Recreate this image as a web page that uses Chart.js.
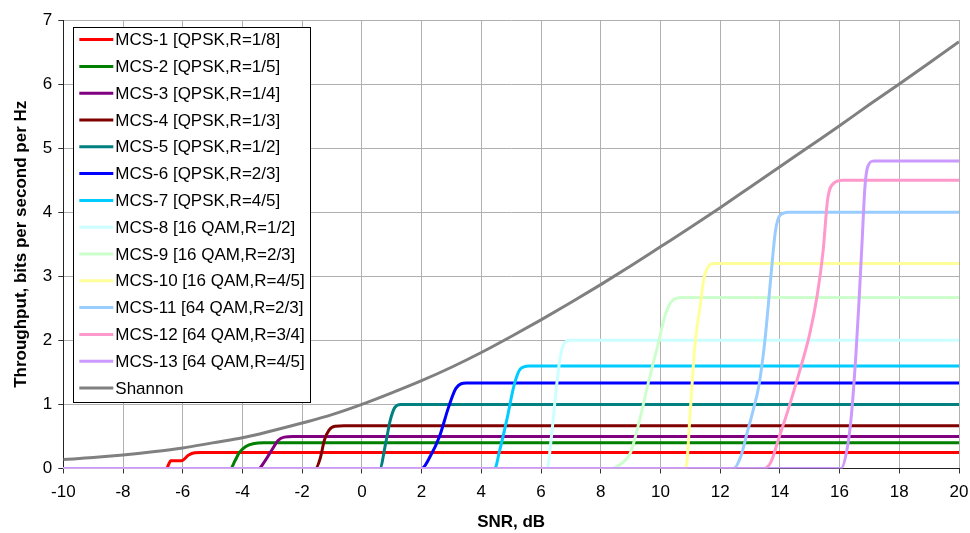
<!DOCTYPE html>
<html>
<head>
<meta charset="utf-8">
<title>MCS throughput vs SNR</title>
<script src="https://cdn.jsdelivr.net/npm/chart.js@4.4.0/dist/chart.umd.min.js"></script>
<style>
  html, body { margin: 0; padding: 0; background: #ffffff; }
  #wrap { width: 970px; height: 533px; position: relative; }
</style>
</head>
<body>
<div id="wrap"><canvas id="snrChart" width="970" height="533"></canvas></div>
<script>
// Series names
const seriesLabels = [
  'MCS-1 [QPSK,R=1/8]', 'MCS-2 [QPSK,R=1/5]', 'MCS-3 [QPSK,R=1/4]', 'MCS-4 [QPSK,R=1/3]',
  'MCS-5 [QPSK,R=1/2]', 'MCS-6 [QPSK,R=2/3]', 'MCS-7 [QPSK,R=4/5]', 'MCS-8 [16 QAM,R=1/2]',
  'MCS-9 [16 QAM,R=2/3]', 'MCS-10 [16 QAM,R=4/5]', 'MCS-11 [64 QAM,R=2/3]',
  'MCS-12 [64 QAM,R=3/4]', 'MCS-13 [64 QAM,R=4/5]', 'Shannon'
];

// SNR (dB) / throughput (bit/s/Hz) points
const mcs1Snr  = [-10, -6.55, -6.4, -6.05, -5.8, -5.6, -5.4, 20];
const mcs1Rate = [0, 0, 0.12, 0.12, 0.21, 0.245, 0.25, 0.25];
const mcs2Snr  = [-10, -4.4, -4.25, -4.1, -3.9, -3.6, -3.3, 20];
const mcs2Rate = [0, 0, 0.12, 0.25, 0.34, 0.39, 0.4, 0.4];
const mcs3Snr  = [-10, -3.45, -3.3, -3.0, -2.8, -2.6, -2.3, 20];
const mcs3Rate = [0, 0, 0.08, 0.3, 0.44, 0.49, 0.5, 0.5];
const mcs4Snr  = [-10, -1.55, -1.4, -1.25, -1.1, -0.9, -0.6, 20];
const mcs4Rate = [0, 0, 0.15, 0.45, 0.6, 0.66, 0.667, 0.667];
const mcs5Snr  = [-10, 0.6, 0.8, 0.95, 1.1, 1.3, 1.6, 20];
const mcs5Rate = [0, 0, 0.4, 0.75, 0.95, 1.0, 1.0, 1.0];
const mcs6Snr  = [-10, 2.0, 2.3, 2.6, 2.9, 3.15, 3.5, 20];
const mcs6Rate = [0, 0, 0.2, 0.5, 0.95, 1.25, 1.333, 1.333];
const mcs7Snr  = [-10, 4.45, 4.6, 4.85, 5.1, 5.3, 5.6, 20];
const mcs7Rate = [0, 0, 0.25, 0.75, 1.3, 1.55, 1.6, 1.6];
const mcs8Snr  = [-10, 6.2, 6.35, 6.5, 6.65, 6.8, 7.0, 20];
const mcs8Rate = [0, 0, 0.5, 1.2, 1.75, 1.97, 2.0, 2.0];
const mcs9Snr  = [-10, 8.35, 8.7, 9.0, 9.3, 9.6, 9.9, 10.2, 10.5, 10.8, 20];
const mcs9Rate = [0, 0, 0.08, 0.25, 0.75, 1.35, 1.9, 2.45, 2.65, 2.667, 2.667];
const mcs10Snr  = [-10, 10.85, 11.0, 11.15, 11.35, 11.45, 11.6, 11.8, 20];
const mcs10Rate = [0, 0, 0.9, 1.9, 2.6, 2.95, 3.15, 3.2, 3.2];
const mcs11Snr  = [-10, 12.45, 12.7, 12.9, 13.1, 13.3, 13.5, 13.7, 13.85, 14.0, 14.3, 20];
const mcs11Rate = [0, 0, 0.2, 0.55, 0.9, 1.3, 2.0, 3.0, 3.7, 3.95, 4.0, 4.0];
const mcs12Snr  = [-10, 13.45, 13.7, 13.95, 14.3, 14.65, 15.0, 15.25, 15.45, 15.6, 15.8, 16.1, 20];
const mcs12Rate = [0, 0, 0.1, 0.45, 0.95, 1.5, 2.1, 2.7, 3.4, 4.2, 4.45, 4.5, 4.5];
const mcs13Snr  = [-10, 16.05, 16.25, 16.4, 16.55, 16.65, 16.75, 16.85, 16.95, 17.15, 20];
const mcs13Rate = [0, 0, 0.3, 0.85, 1.8, 2.6, 3.5, 4.4, 4.72, 4.8, 4.8];
const shannonSnr  = [-10, -9, -8, -7, -6, -5, -4, -3, -2, -1, 0, 1, 2, 3, 4, 5,
                     6, 7, 8, 9, 10, 11, 12, 13, 14, 15, 16, 17, 18, 19, 20];
const shannonRate = [0.14, 0.17, 0.21, 0.26, 0.32, 0.40, 0.48, 0.59, 0.71, 0.84, 1.0, 1.18, 1.37, 1.58, 1.81, 2.06,
                     2.32, 2.59, 2.87, 3.16, 3.46, 3.76, 4.07, 4.39, 4.71, 5.03, 5.35, 5.68, 6.0, 6.33, 6.66];

// Axis ticks
const xTicks = [-10, -8, -6, -4, -2, 0, 2, 4, 6, 8, 10, 12, 14, 16, 18, 20];
const yTicks = [0, 1, 2, 3, 4, 5, 6, 7];

const seriesColors = [
  '#ff0000', '#008000', '#800080', '#800000', '#008080', '#0000ff', '#00ccff',
  '#ccffff', '#ccffcc', '#ffff99', '#99ccff', '#ff99cc', '#cc99ff', '#808080'
];

const seriesSnr = [mcs1Snr, mcs2Snr, mcs3Snr, mcs4Snr, mcs5Snr, mcs6Snr, mcs7Snr,
  mcs8Snr, mcs9Snr, mcs10Snr, mcs11Snr, mcs12Snr, mcs13Snr, shannonSnr];
const seriesRate = [mcs1Rate, mcs2Rate, mcs3Rate, mcs4Rate, mcs5Rate, mcs6Rate, mcs7Rate,
  mcs8Rate, mcs9Rate, mcs10Rate, mcs11Rate, mcs12Rate, mcs13Rate, shannonRate];

const FONT = '"Liberation Sans", Arial, sans-serif';

const datasets = seriesLabels.map((label, i) => ({
  label: label,
  data: seriesSnr[i].map((x, k) => ({ x: x, y: seriesRate[i][k] })),
  borderColor: seriesColors[i],
  backgroundColor: seriesColors[i],
  borderWidth: 3,
  pointRadius: 0,
  showLine: true,
  fill: false,
  cubicInterpolationMode: 'monotone',
  // later series are drawn on top, like the original
  order: seriesLabels.length - i
}));

// Legend box drawn inside the plot area, top-left
const boxLegend = {
  id: 'boxLegend',
  afterDraw(chart) {
    const ctx = chart.ctx;
    const area = chart.chartArea;
    const left = area.left + 10;
    const top = area.top + 7;
    const width = 237;
    const rowH = 26.8;
    const height = 375;
    ctx.save();
    ctx.fillStyle = '#ffffff';
    ctx.fillRect(left, top, width, height);
    ctx.strokeStyle = '#000000';
    ctx.lineWidth = 1;
    ctx.strokeRect(Math.round(left) + 0.5, Math.round(top) + 0.5, width, height);
    ctx.font = '17px ' + FONT;
    ctx.textBaseline = 'middle';
    ctx.fillStyle = '#000000';
    chart.data.datasets.forEach((ds, i) => {
      const y = top + 12.6 + i * rowH;
      ctx.strokeStyle = ds.borderColor;
      ctx.lineWidth = 3;
      ctx.beginPath();
      ctx.moveTo(left + 6, y);
      ctx.lineTo(left + 40, y);
      ctx.stroke();
      ctx.fillText(ds.label, left + 42, y + 1);
    });
    ctx.restore();
  }
};

const ctx = document.getElementById('snrChart').getContext('2d');
new Chart(ctx, {
  type: 'scatter',
  data: { datasets: datasets },
  options: {
    responsive: false,
    animation: false,
    layout: { padding: { top: 20, right: 0, left: 0, bottom: 0 } },
    plugins: {
      legend: { display: false },
      tooltip: { enabled: false }
    },
    scales: {
      x: {
        type: 'linear',
        min: -10,
        max: 20,
        afterBuildTicks: scale => { scale.ticks = xTicks.map(v => ({ value: v })); },
        afterFit: scale => {
          scale.height = 64.5;
          scale.paddingRight = 11;
        },
        ticks: { color: '#000', font: { family: FONT, size: 17 }, padding: 9, maxRotation: 0 },
        grid: { color: '#b0b0b0', tickColor: '#333333', tickLength: 5, lineWidth: 1 },
        border: { color: '#222222', width: 1 },
        title: {
          display: true,
          text: 'SNR, dB',
          color: '#000',
          font: { family: FONT, size: 17, weight: 'bold' },
          padding: { top: 0, bottom: 0 }
        }
      },
      y: {
        type: 'linear',
        min: 0,
        max: 7,
        afterBuildTicks: scale => { scale.ticks = yTicks.map(v => ({ value: v })); },
        afterFit: scale => { scale.width = 63.3; },
        ticks: { color: '#000', font: { family: FONT, size: 17 }, padding: 6 },
        grid: { color: '#b0b0b0', tickColor: '#333333', tickLength: 5, lineWidth: 1 },
        border: { color: '#222222', width: 1 },
        title: {
          display: true,
          text: 'Throughput, bits per second per Hz',
          color: '#000',
          font: { family: FONT, size: 17, weight: 'bold' },
          padding: { top: 11, bottom: 0 }
        }
      }
    }
  },
  plugins: [boxLegend]
});
</script>
</body>
</html>
